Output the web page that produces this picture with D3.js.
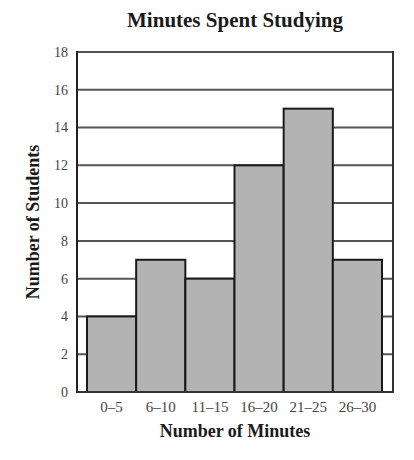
<!DOCTYPE html>
<html><head><meta charset="utf-8">
<script src="https://cdn.jsdelivr.net/npm/d3@7"></script>
<style>body{margin:0;background:#fff}</style>
</head><body>
<svg id="c" width="414" height="460"></svg>
<script>
const categories = ["0–5","6–10","11–15","16–20","21–25","26–30"];
const students = [4,7,6,12,15,7];
const yTicks = [0,2,4,6,8,10,12,14,16,18];

const svg = d3.select("#c");
const L = 77, R = 393, T = 52, B = 392;
const bandL = 87, bandR = 382;
const x = d3.scaleBand().domain(categories).range([bandL, bandR]).padding(0);
const y = d3.scaleLinear().domain([0,18]).range([B, T]);
const font = "'Liberation Serif','Times New Roman',serif";

// gridlines
svg.append("g").selectAll("line").data(yTicks).join("line")
  .attr("x1", L).attr("x2", R).attr("y1", d=>y(d)).attr("y2", d=>y(d))
  .attr("stroke", "#555").attr("stroke-width", 2);
// frame sides
svg.append("line").attr("x1",L).attr("x2",L).attr("y1",T-1).attr("y2",B+1).attr("stroke","#222").attr("stroke-width",2);
svg.append("line").attr("x1",R).attr("x2",R).attr("y1",T-1).attr("y2",B+1).attr("stroke","#333").attr("stroke-width",2);
// bars
svg.append("g").selectAll("rect").data(students).join("rect")
  .attr("x", (d,i)=>x(categories[i]))
  .attr("width", x.bandwidth())
  .attr("y", d=>y(d))
  .attr("height", d=>B - y(d))
  .attr("fill", "#b3b3b3").attr("stroke", "#1a1a1a").attr("stroke-width", 2);
// baseline
svg.append("line").attr("x1",L).attr("x2",R).attr("y1",B).attr("y2",B).attr("stroke","#333").attr("stroke-width",2);

// y tick labels
svg.append("g").selectAll("text").data(yTicks).join("text")
  .attr("x", 68).attr("y", d=>y(d)).attr("dy","0.35em")
  .attr("text-anchor","end").attr("font-family",font).attr("font-size",14)
  .attr("fill","#444").text(d=>d);
// x tick labels
svg.append("g").selectAll("text").data(categories).join("text")
  .attr("x", d=>x(d)+x.bandwidth()/2).attr("y", 412)
  .attr("text-anchor","middle").attr("font-family",font).attr("font-size",15)
  .attr("fill","#444").text(d=>d);
// titles
svg.append("text").attr("x",235).attr("y",27).attr("text-anchor","middle")
  .attr("font-family",font).attr("font-size",21).attr("font-weight","bold").attr("fill","#1a1a1a")
  .text("Minutes Spent Studying");
svg.append("text").attr("x",235).attr("y",437).attr("text-anchor","middle")
  .attr("font-family",font).attr("font-size",18).attr("font-weight","bold").attr("fill","#1a1a1a")
  .text("Number of Minutes");
svg.append("text").attr("transform",`translate(39,${(T+B)/2}) rotate(-90)`).attr("text-anchor","middle")
  .attr("font-family",font).attr("font-size",18).attr("font-weight","bold").attr("fill","#1a1a1a")
  .text("Number of Students");
</script>
</body></html>
